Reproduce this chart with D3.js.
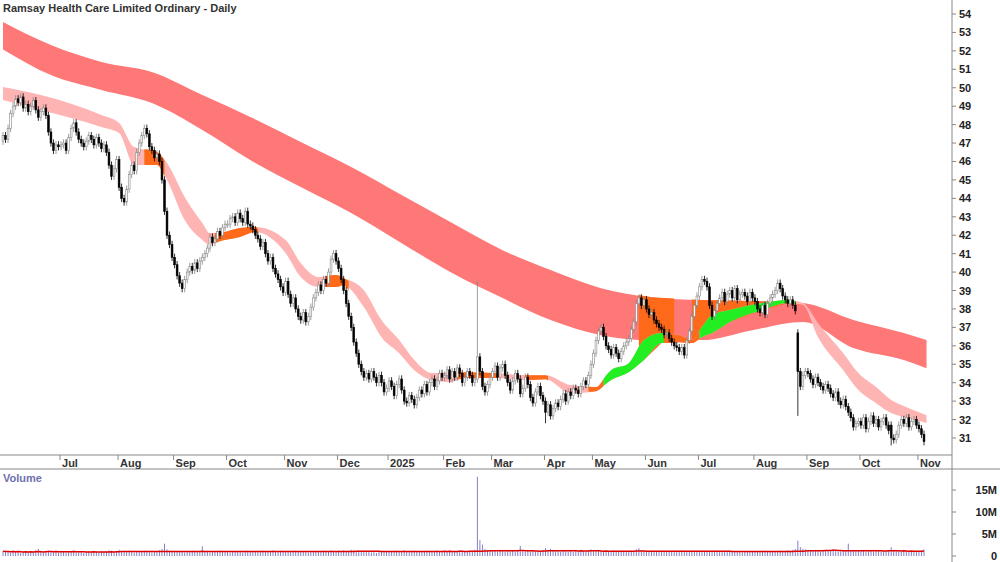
<!DOCTYPE html>
<html>
<head>
<meta charset="utf-8">
<script src="https://cdn.jsdelivr.net/npm/d3@7/dist/d3.min.js"></script>
<style>
  body { margin: 0; background: #fff; }
  text { font-family: "Liberation Sans", Arial, sans-serif; }
</style>
</head>
<body>
<script>
// month labels and number of trading days in each (first month is a partial Jun 2024)
var months = ["", "Jul", "Aug", "Sep", "Oct", "Nov", "Dec", "2025", "Feb", "Mar", "Apr", "May", "Jun", "Jul", "Aug", "Sep", "Oct", "Nov"];
var monthDays = [23, 23, 22, 21, 23, 21, 20, 22, 19, 21, 19, 21, 21, 22, 21, 21, 23, 3];

// daily closes, month by month
var closes = [
  47.4,47.2,47.8,48.6,49.0,49.4,49.2,49.5,48.9,49.1,48.7,49.0,49.3,48.8,48.4,48.7,48.9,48.5,47.6,47.0,46.6,46.9,46.8,
  46.9,47.0,46.6,47.3,47.8,48.1,47.6,47.2,47.0,46.8,47.1,47.4,47.2,46.9,47.3,47.0,46.7,46.9,46.5,45.8,45.2,45.6,46.1,
  44.6,44.0,43.8,44.5,45.3,45.8,45.5,46.5,47.0,47.4,47.8,47.5,46.8,46.6,46.2,46.4,46.0,45.0,43.3,42.0,41.5,40.8,
  40.4,39.8,39.4,39.1,39.6,40.0,40.3,40.1,40.5,40.2,40.6,40.8,41.0,41.3,41.9,41.6,41.8,42.2,42.0,42.4,42.6,
  42.6,42.9,43.0,42.7,43.2,42.9,42.7,43.3,42.6,42.5,42.3,42.0,41.8,41.4,41.6,41.0,40.6,40.8,40.2,39.9,39.6,39.2,38.9,
  39.5,38.8,38.3,38.6,38.0,37.6,37.4,37.8,37.3,37.6,38.1,38.6,38.9,39.3,39.0,39.6,39.4,40.0,40.7,41.0,40.6,
  40.2,39.6,39.0,38.3,37.6,37.0,36.2,35.6,35.0,34.6,34.3,34.5,34.2,34.6,34.3,34.0,34.4,34.0,33.5,33.7,
  34.1,33.8,33.3,33.9,34.2,33.6,33.0,32.9,33.3,33.1,32.8,33.2,33.6,33.4,33.9,33.5,34.0,34.2,33.8,34.1,34.5,34.3,
  34.4,34.7,34.2,34.6,34.3,34.8,34.5,34.0,34.3,34.6,34.4,34.0,34.2,35.4,34.6,33.8,33.5,33.9,34.3,
  34.6,34.9,34.3,34.8,35.0,34.4,34.0,33.6,34.1,34.5,34.2,33.4,33.7,34.3,33.9,33.2,32.9,33.5,33.8,33.3,33.0,
  32.4,32.8,32.2,32.6,32.9,32.7,33.1,33.4,33.0,33.5,33.3,33.7,33.6,33.4,33.8,34.1,33.9,34.4,35.0,
  35.6,36.3,36.8,37.0,36.5,36.0,35.8,35.5,35.9,35.6,35.3,35.7,36.0,36.2,36.4,36.9,37.3,38.3,38.6,38.2,38.5,
  38.0,37.7,37.8,37.4,37.2,37.0,36.9,36.6,36.7,36.4,36.2,36.0,35.9,35.7,35.9,35.5,36.3,36.8,37.6,38.2,38.7,
  39.2,39.6,39.5,39.2,38.2,37.6,37.9,38.3,38.6,38.9,38.4,38.8,39.0,38.6,39.1,38.5,38.8,38.9,38.7,38.4,38.9,38.6,
  38.4,38.0,37.8,38.2,37.7,38.3,38.6,38.8,39.0,39.4,39.1,38.7,38.5,38.3,38.5,38.2,37.9,34.6,33.8,34.4,34.6,
  34.5,34.2,33.9,34.3,34.0,33.8,33.6,33.9,33.7,33.4,33.2,33.5,33.0,32.8,33.1,32.7,32.4,32.1,31.6,31.8,31.9,
  31.7,32.1,31.5,31.9,32.2,31.8,32.0,31.6,31.9,32.1,31.7,31.4,31.0,30.9,31.2,31.7,32.0,31.8,32.1,31.6,31.9,32.0,31.7,
  31.5,31.2,30.8
];

// candles with a notable open or wick: [day, open, high, low]
var bigCandles = [
  [188, 34.2, 39.5, 34.0],
  [315, 36.7, 36.9, 32.2],
  [215, 33.0, 33.2, 31.8],
  [352, 31.7, 31.9, 30.6]
];

// daily volume, millions
var volumes = [
  1.1,0.9,1.0,0.8,1.2,0.9,1.0,0.7,0.9,1.1,0.8,1.0,0.9,1.3,1.6,0.9,0.8,1.0,1.2,1.1,0.9,1.0,0.8,
  0.9,1.0,0.8,1.1,0.9,1.2,0.8,0.9,1.0,0.7,0.9,1.1,0.8,1.0,0.9,0.8,1.1,0.9,1.0,1.3,1.2,0.9,1.0,
  1.4,1.1,1.0,0.9,1.2,1.0,0.8,1.1,0.9,1.0,1.2,0.9,1.0,0.8,1.1,1.0,1.3,1.6,2.8,1.5,1.2,1.1,
  1.0,0.9,1.1,1.0,0.8,1.0,0.9,1.2,1.0,0.9,1.1,2.2,1.0,0.9,0.8,1.1,1.0,0.9,1.2,1.0,0.9,
  1.0,0.8,0.9,1.1,1.0,0.9,0.8,1.0,1.2,0.9,1.0,1.1,0.9,1.0,1.2,1.1,0.9,1.0,1.3,1.1,1.0,1.2,1.1,
  1.0,1.1,0.9,1.0,1.2,1.0,0.9,1.1,1.0,0.8,0.9,1.0,1.1,0.9,1.0,1.2,0.9,1.0,1.3,1.1,1.0,
  1.2,1.1,1.3,1.0,1.2,1.4,1.3,1.1,1.2,1.0,1.1,0.9,1.0,0.8,0.9,0.7,1.0,0.9,1.1,1.0,
  1.0,1.1,0.9,1.2,1.0,1.1,1.3,1.0,0.9,1.1,1.2,1.0,0.9,1.1,1.0,1.2,0.9,1.0,1.1,1.3,1.0,1.1,
  1.1,1.0,1.2,0.9,1.1,1.0,1.3,1.2,1.0,0.9,1.1,1.2,1.4,18.0,3.6,2.6,1.6,1.3,1.2,
  1.1,1.3,1.0,1.2,1.1,1.0,1.3,1.1,1.2,1.0,1.4,2.3,1.1,1.0,1.2,1.1,1.3,1.0,1.2,1.1,1.3,
  1.8,1.4,1.6,1.2,1.1,1.3,1.0,1.2,1.1,1.0,1.2,0.9,1.1,1.0,1.2,1.1,1.0,1.3,1.5,
  1.3,1.2,1.4,1.1,1.0,1.2,1.1,1.0,1.3,1.1,1.0,1.2,0.9,1.1,1.0,1.2,1.1,1.5,1.8,1.3,1.2,
  1.1,1.0,1.2,0.9,1.1,1.0,1.2,1.1,1.0,0.9,1.1,1.0,1.2,1.1,1.3,1.2,1.1,1.0,1.2,1.1,1.0,
  1.1,1.2,1.0,0.9,1.1,1.0,1.2,0.9,1.0,1.1,0.9,1.0,1.2,1.0,0.9,1.1,1.0,0.8,1.0,1.1,0.9,1.0,
  1.0,1.1,0.9,1.0,1.2,1.1,1.0,0.9,1.1,1.0,1.2,1.0,1.1,1.3,1.2,1.4,1.6,3.5,2.0,1.6,1.5,
  1.3,1.2,1.1,1.4,1.2,1.0,1.1,1.3,1.2,1.1,1.5,1.2,1.0,1.1,1.2,1.3,2.8,1.2,1.1,1.3,1.2,
  1.1,1.2,1.0,1.1,1.3,1.0,1.1,1.2,1.0,1.1,1.3,1.2,2.0,1.4,1.2,1.1,1.0,1.2,1.1,1.0,1.2,1.1,1.0,
  1.1,1.2,1.5
];

// long-term ribbon: [day, top, bottom]
var longBand = [
  [0,53.57,52.08],[19,52.32,50.69],[39,51.40,49.88],[59,50.85,49.17],[79,49.60,47.71],
  [98,48.41,46.08],[118,47.05,44.61],[138,45.70,43.20],[158,44.18,41.57],[178,42.66,39.95],
  [198,41.19,38.59],[217,40.11,37.40],[237,39.13,36.58],[257,38.64,36.31],[277,38.48,36.31],
  [297,38.43,36.85],[317,38.32,37.29],[337,37.40,35.88],[357,36.69,35.23],[366,36.31,34.79]
];

// short-term ribbon: [day, top, bottom]
var shortBand = [
  [0,50.04,49.33],[15,49.60,48.79],[39,48.52,47.87],[46,48.09,47.54],[52,46.78,45.81],
  [61,46.51,45.81],[65,45.92,45.00],[72,44.07,42.82],[79,42.66,41.74],[82,42.12,41.47],
  [85,42.12,41.63],[94,42.39,41.90],[100,42.44,42.17],[112,41.74,41.03],[118,40.49,39.73],
  [125,39.73,39.19],[132,39.84,39.19],[135,39.68,39.29],[143,39.02,38.10],[150,37.40,36.47],
  [157,36.31,35.60],[163,35.23,34.68],[170,34.52,34.14],[177,34.57,34.03],[183,34.57,34.25],
  [195,34.52,34.25],[208,34.41,34.14],[215,34.41,34.19],[225,33.87,33.43],[235,33.76,33.54],
  [241,34.68,34.14],[248,35.06,34.57],[254,36.31,35.23],[261,36.69,36.15],[268,36.58,36.20],
  [273,36.31,36.15],[277,37.02,36.47],[281,37.67,36.69],[288,37.94,37.29],[301,38.32,37.94],
  [311,38.48,38.32],[317,38.32,38.21],[323,37.23,36.47],[333,35.60,34.68],[339,34.52,33.60],
  [346,33.76,32.89],[352,33.06,32.35],[359,32.62,32.08],[366,32.24,31.81]
];

// short ribbon colour by day range: [from, to, colour]
var shortColours = [
  [56,64,"o"],[84,101,"o"],[128,137,"o"],[180,196,"o"],[207,216,"o"],[232,238,"o"],
  [238,262,"g"],[262,276,"o"],[276,314,"g"]
];
// ranges where the gap between ribbons is filled orange
var orangeGaps = [[252,266],[273,317]];

var priceTicks = d3.range(31, 55);
var volTicks = [0, 5, 10, 15];

var W = 1000, H = 562;
var palette = { p: "#ffb4b4", o: "#ff6a1a", g: "#22ee22", r: "#ff7878" };

var svg = d3.select("body").append("svg").attr("width", W).attr("height", H);

var n = closes.length;
var x = d3.scaleLinear().domain([0, n - 1]).range([3, 924]);
var y = d3.scaleLinear().domain([31, 54]).range([438, 14]);
var yv = d3.scaleLinear().domain([0, 15]).range([556, 490]);

// ribbons
function bandArea(rows) {
  return d3.area().curve(d3.curveMonotoneX)
    .x(function(d) { return x(d[0]); })
    .y0(function(d) { return y(d[2]); })
    .y1(function(d) { return y(d[1]); })(rows);
}
function sliceBand(rows, a, b) {
  var days = rows.map(function(r) { return r[0]; });
  var top = d3.scaleLinear().domain(days).range(rows.map(function(r) { return r[1]; }));
  var bot = d3.scaleLinear().domain(days).range(rows.map(function(r) { return r[2]; }));
  var out = [[a, top(a), bot(a)]];
  rows.forEach(function(r) { if (r[0] > a && r[0] < b) out.push(r); });
  out.push([b, top(b), bot(b)]);
  return out;
}

svg.append("path").attr("d", bandArea(longBand)).attr("fill", palette.r);

orangeGaps.forEach(function(g) {
  var L = sliceBand(longBand, g[0], g[1]);
  var S = sliceBand(shortBand, g[0], g[1]);
  var pts = L.map(function(r) { return [x(r[0]), y(r[1])]; })
    .concat(S.slice().reverse().map(function(r) { return [x(r[0]), y(Math.min(r[2], r[1]))]; }));
  svg.append("path").attr("d", "M" + pts.join("L") + "Z").attr("fill", palette.o);
});

svg.append("path").attr("d", bandArea(shortBand)).attr("fill", palette.p);
shortColours.forEach(function(s) {
  svg.append("path").attr("d", bandArea(sliceBand(shortBand, s[0], s[1]))).attr("fill", palette[s[2]]);
});

// candles
var candles = closes.map(function(c, i) {
  var o = i === 0 ? c - 0.3 : closes[i - 1];
  var hi = Math.max(o, c) + 0.2, lo = Math.min(o, c) - 0.2;
  bigCandles.forEach(function(b) { if (b[0] === i) { o = b[1]; hi = b[2]; lo = b[3]; } });
  return { i: i, o: o, c: c, h: hi, l: lo };
});
var cw = 1.8;
var cg = svg.append("g");
cg.selectAll("line").data(candles).enter().append("line")
  .attr("x1", function(d) { return x(d.i); }).attr("x2", function(d) { return x(d.i); })
  .attr("y1", function(d) { return y(d.h); }).attr("y2", function(d) { return y(d.l); })
  .attr("stroke", function(d) { return d.c >= d.o ? "#888" : "#000"; }).attr("stroke-width", 0.8);
cg.selectAll("rect").data(candles).enter().append("rect")
  .attr("x", function(d) { return x(d.i) - cw / 2; })
  .attr("y", function(d) { return y(Math.max(d.o, d.c)); })
  .attr("width", cw)
  .attr("height", function(d) { return Math.max(1, Math.abs(y(d.o) - y(d.c))); })
  .attr("fill", function(d) { return d.c >= d.o ? "#fff" : "#000"; })
  .attr("stroke", function(d) { return d.c >= d.o ? "#888" : "#000"; })
  .attr("stroke-width", 0.6);

// frame lines
svg.append("line").attr("x1", 0).attr("x2", 952).attr("y1", 455).attr("y2", 455).attr("stroke", "#888");
svg.append("line").attr("x1", 0).attr("x2", W).attr("y1", 469).attr("y2", 469).attr("stroke", "#888");
svg.append("line").attr("x1", 952).attr("x2", 952).attr("y1", 0).attr("y2", H).attr("stroke", "#888");

// month axis
var starts = [], acc = 0;
monthDays.forEach(function(d, k) { starts.push({ i: acc, label: months[k] }); acc += d; });
starts.filter(function(s) { return s.label; }).forEach(function(s) {
  var xx = x(s.i) - 1;
  svg.append("line").attr("x1", xx).attr("x2", xx).attr("y1", 455).attr("y2", 460).attr("stroke", "#888");
  svg.append("text").attr("x", xx + 2).attr("y", 467).attr("font-size", 11).attr("font-weight", "bold")
    .attr("fill", "#333").text(s.label);
});

// price axis
priceTicks.forEach(function(t) {
  svg.append("line").attr("x1", 952).attr("x2", 956).attr("y1", y(t)).attr("y2", y(t)).attr("stroke", "#888");
  svg.append("text").attr("x", 959).attr("y", y(t) + 4).attr("font-size", 11).attr("font-weight", "bold")
    .attr("fill", "#222").text(t);
});

// volume
var vg = svg.append("g");
vg.selectAll("line").data(volumes).enter().append("line")
  .attr("x1", function(d, i) { return x(i); }).attr("x2", function(d, i) { return x(i); })
  .attr("y1", yv(0)).attr("y2", function(d) { return yv(d); })
  .attr("stroke", "#8080c8").attr("stroke-width", 1);
var vavg = volumes.map(function(v, i) { return d3.median(volumes.slice(Math.max(0, i - 19), i + 1)); });
svg.append("path").datum(vavg)
  .attr("d", d3.line().x(function(d, i) { return x(i); }).y(function(d) { return yv(d); }))
  .attr("fill", "none").attr("stroke", "#e00000").attr("stroke-width", 1.5);
volTicks.forEach(function(t) {
  svg.append("line").attr("x1", 952).attr("x2", 956).attr("y1", yv(t)).attr("y2", yv(t)).attr("stroke", "#888");
  svg.append("text").attr("x", 997).attr("y", yv(t) + 4).attr("text-anchor", "end").attr("font-size", 11)
    .attr("font-weight", "bold").attr("fill", "#222").text(t === 0 ? "0" : t + "M");
});

svg.append("text").attr("x", 3).attr("y", 12).attr("font-size", 11).attr("font-weight", "bold")
  .attr("fill", "#333").text("Ramsay Health Care Limited Ordinary - Daily");
svg.append("text").attr("x", 3).attr("y", 482).attr("font-size", 11).attr("font-weight", "bold")
  .attr("fill", "#7070b0").text("Volume");
</script>
</body>
</html>
